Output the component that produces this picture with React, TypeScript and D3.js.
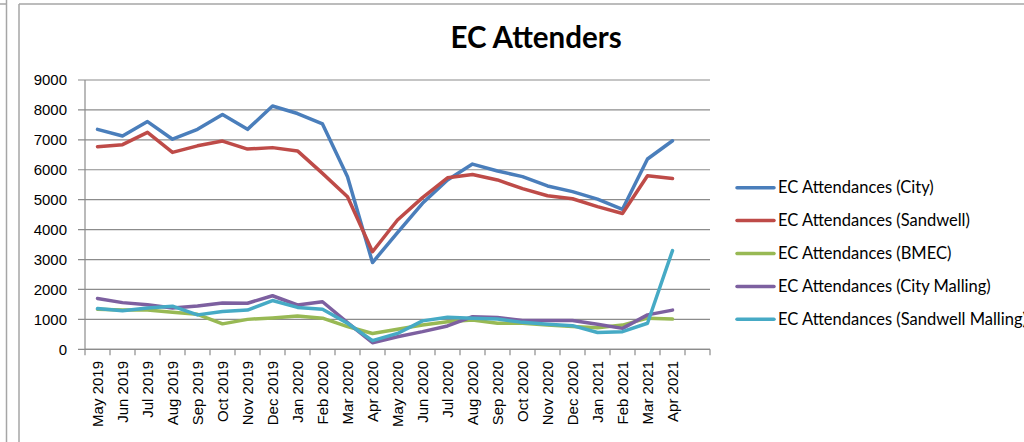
import React from "react";
import * as d3 from "d3";

const months = [
  "May 2019","Jun 2019","Jul 2019","Aug 2019","Sep 2019","Oct 2019","Nov 2019","Dec 2019",
  "Jan 2020","Feb 2020","Mar 2020","Apr 2020","May 2020","Jun 2020","Jul 2020","Aug 2020",
  "Sep 2020","Oct 2020","Nov 2020","Dec 2020","Jan 2021","Feb 2021","Mar 2021","Apr 2021",
];
const categories = [...months, ""];

const city = [7350,7130,7610,7020,7350,7850,7350,8130,7880,7530,5770,2900,3900,4880,5660,6190,5960,5770,5460,5270,5020,4680,6360,6970];
const sandwell = [6770,6840,7250,6580,6800,6960,6690,6740,6630,5880,5100,3260,4320,5070,5730,5840,5660,5370,5130,5030,4770,4540,5800,5710];
const bmec = [1340,1310,1310,1240,1170,850,1000,1050,1110,1040,760,530,670,810,920,980,870,870,810,760,720,810,1040,1010];
const cityMalling = [1700,1560,1490,1380,1450,1550,1540,1790,1480,1590,890,220,420,590,780,1090,1060,960,960,960,840,700,1150,1310];
const sandwellMalling = [1360,1290,1380,1440,1150,1260,1310,1630,1400,1340,870,290,530,950,1070,1040,1010,900,840,790,560,590,870,3300];

const yTicks = [0,1000,2000,3000,4000,5000,6000,7000,8000,9000];

const series = [
  { name: "EC Attendances (City)", values: city, color: "#4a7ebb" },
  { name: "EC Attendances (Sandwell)", values: sandwell, color: "#be4b48" },
  { name: "EC Attendances (BMEC)", values: bmec, color: "#98b954" },
  { name: "EC Attendances (City Malling)", values: cityMalling, color: "#7d60a0" },
  { name: "EC Attendances (Sandwell Malling)", values: sandwellMalling, color: "#46aac5" },
];

export default function App() {
  const W = 1024, H = 442;
  const left = 85, right = 710, top = 80, bottom = 349.3;
  const x = d3.scaleBand<string>().domain(categories).range([left, right]);
  const y = d3.scaleLinear().domain([0, 9000]).range([bottom, top]);
  const line = d3.line<number>()
    .x((_, i) => (x(months[i]) as number) + x.bandwidth() / 2)
    .y((v) => y(v));
  const grid = "#8c8c8c";
  const legendY0 = 187.7, legendStep = 32.9;

  return (
    <svg width={W} height={H} style={{ position: "absolute", left: 0, top: 0, background: "#fff" }}>
      <rect x={0} y={0} width={W} height={H} fill="#fff" />
      {/* frames */}
      <line x1={6.5} y1={0} x2={6.5} y2={H} stroke="#a6a6a6" strokeWidth={1.5} />
      <line x1={0} y1={4} x2={6.5} y2={4} stroke="#a6a6a6" strokeWidth={1.5} />
      <line x1={19} y1={4} x2={19} y2={H} stroke="#a6a6a6" strokeWidth={1.5} />
      <line x1={19} y1={4} x2={W} y2={4} stroke="#a6a6a6" strokeWidth={1.5} />

      <text x={536} y={48} textAnchor="middle" fontFamily="Lato, 'Open Sans', sans-serif" fontWeight="bold" fontSize={29.5} fill="#000">
        EC Attenders
      </text>

      {/* gridlines and y ticks */}
      {yTicks.map((t) => (
        <g key={t}>
          <line x1={left - 7} x2={right} y1={y(t)} y2={y(t)} stroke={grid} strokeWidth={1.2} />
          <text x={67} y={y(t)} dy="0.35em" textAnchor="end" fontFamily="'Liberation Sans', Arial, sans-serif" fontSize={15} fill="#000">
            {t}
          </text>
        </g>
      ))}
      {/* axes */}
      <line x1={left} x2={left} y1={top} y2={bottom} stroke={grid} strokeWidth={1.2} />
      <line x1={left} x2={right} y1={bottom} y2={bottom} stroke={grid} strokeWidth={1.2} />
      {categories.map((c, i) => (
        <line key={"t" + i} x1={(x(c) as number) + x.bandwidth()} x2={(x(c) as number) + x.bandwidth()} y1={bottom} y2={bottom + 6} stroke={grid} strokeWidth={1.2} />
      ))}
      <line x1={left} x2={left} y1={bottom} y2={bottom + 6} stroke={grid} strokeWidth={1.2} />
      {months.map((m) => {
        const cx = (x(m) as number) + x.bandwidth() / 2;
        return (
          <text key={m} transform={`translate(${cx},361) rotate(-90)`} dy="0.35em" textAnchor="end" fontFamily="'Liberation Sans', Arial, sans-serif" fontSize={15} fill="#000">
            {m}
          </text>
        );
      })}

      {/* lines */}
      {series.map((s) => (
        <path key={s.name} d={line(s.values) as string} fill="none" stroke={s.color} strokeWidth={3.5} strokeLinejoin="round" strokeLinecap="round" />
      ))}

      {/* legend */}
      {series.map((s, i) => {
        const ly = legendY0 + i * legendStep;
        return (
          <g key={"l" + i}>
            <line x1={737} x2={774} y1={ly} y2={ly} stroke={s.color} strokeWidth={3.5} strokeLinecap="round" />
            <text x={778} y={ly} dy="0.35em" fontFamily="Lato, 'Open Sans', sans-serif" fontSize={16.5} fill="#000">
              {s.name}
            </text>
          </g>
        );
      })}
    </svg>
  );
}
